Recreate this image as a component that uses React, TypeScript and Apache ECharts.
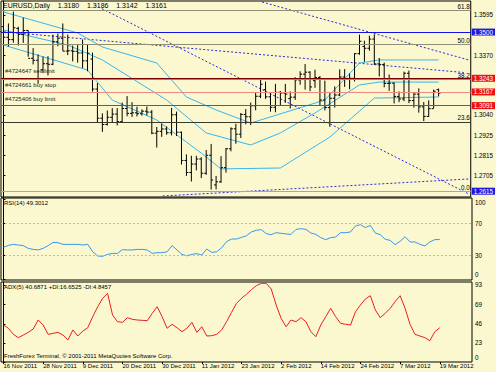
import React, { useEffect, useRef } from 'react';
import * as echarts from 'echarts';

const FONT = '"Liberation Sans", Arial, sans-serif';

const dateLabels = ['16 Nov 2011', '28 Nov 2011', '9 Dec 2011', '20 Dec 2011', '30 Dec 2011', '11 Jan 2012', '23 Jan 2012', '2 Feb 2012', '14 Feb 2012', '24 Feb 2012', '7 Mar 2012', '19 Mar 2012'];

const barOpen = [1.3530,1.3471,1.3458,1.3520,1.3487,1.3509,1.3354,1.3343,1.3290,1.3324,1.3321,1.3446,1.3466,1.3394,1.3396,1.3393,1.3384,1.3340,1.3350,1.3183,1.3021,1.2986,1.3026,1.3044,1.3002,1.3075,1.3048,1.3051,1.3046,1.3060,1.3055,1.2938,1.2948,1.2961,1.2940,1.3040,1.2943,1.2786,1.2719,1.2766,1.2794,1.2715,1.2815,1.2650,1.2667,1.2746,1.2851,1.2962,1.2932,1.3042,1.3029,1.3090,1.3143,1.3180,1.3140,1.3082,1.3165,1.3161,1.3130,1.3138,1.3234,1.3266,1.3277,1.3230,1.3247,1.3122,1.3080,1.3132,1.3150,1.3250,1.3238,1.3243,1.3380,1.3420,1.3410,1.3461,1.3323,1.3320,1.3214,1.3216,1.3142,1.3128,1.3271,1.3119,1.3155,1.3084,1.3031,1.3074,1.3180];
const barHigh = [1.3549,1.3548,1.3614,1.3530,1.3580,1.3510,1.3411,1.3376,1.3364,1.3366,1.3486,1.3492,1.3548,1.3486,1.3425,1.3428,1.3459,1.3432,1.3386,1.3217,1.3048,1.3064,1.3077,1.3077,1.3108,1.3144,1.3110,1.3085,1.3070,1.3086,1.3066,1.2972,1.2990,1.2975,1.3078,1.3058,1.2947,1.2820,1.2812,1.2812,1.2804,1.2844,1.2878,1.2700,1.2810,1.2855,1.2970,1.2990,1.3050,1.3072,1.3108,1.3166,1.3234,1.3224,1.3165,1.3212,1.3172,1.3212,1.3170,1.3249,1.3282,1.3322,1.3282,1.3291,1.3256,1.3230,1.3160,1.3198,1.3293,1.3294,1.3270,1.3382,1.3486,1.3452,1.3480,1.3487,1.3356,1.3330,1.3264,1.3220,1.3170,1.3280,1.3286,1.3160,1.3187,1.3111,1.3120,1.3180,1.3186];
const barLow = [1.3429,1.3420,1.3441,1.3425,1.3440,1.3363,1.3320,1.3212,1.3272,1.3259,1.3316,1.3421,1.3395,1.3372,1.3337,1.3330,1.3300,1.3282,1.3169,1.2994,1.2945,1.2981,1.2995,1.2981,1.2996,1.3032,1.3028,1.3031,1.3035,1.3036,1.2932,1.2858,1.2917,1.2929,1.2925,1.2922,1.2763,1.2700,1.2669,1.2731,1.2688,1.2706,1.2624,1.2625,1.2662,1.2718,1.2837,1.2879,1.2911,1.2987,1.2983,1.3065,1.3133,1.3128,1.3057,1.3054,1.3092,1.3107,1.3075,1.3123,1.3207,1.3180,1.3171,1.3190,1.3089,1.3064,1.2973,1.3080,1.3144,1.3195,1.3182,1.3225,1.3374,1.3335,1.3396,1.3317,1.3253,1.3193,1.3173,1.3103,1.3110,1.3116,1.3105,1.3080,1.3052,1.3005,1.3028,1.3076,1.3142];
const barClose = [1.3471,1.3458,1.3524,1.3487,1.3509,1.3354,1.3343,1.3237,1.3324,1.3321,1.3446,1.3466,1.3394,1.3396,1.3393,1.3384,1.3340,1.3382,1.3183,1.3021,1.2986,1.3026,1.3044,1.3002,1.3075,1.3048,1.3051,1.3046,1.3060,1.3055,1.2938,1.2948,1.2961,1.2940,1.3040,1.2943,1.2786,1.2719,1.2766,1.2794,1.2715,1.2815,1.2677,1.2667,1.2746,1.2851,1.2962,1.2932,1.3042,1.3029,1.3090,1.3143,1.3210,1.3140,1.3082,1.3165,1.3161,1.3155,1.3138,1.3234,1.3266,1.3277,1.3195,1.3247,1.3122,1.3080,1.3132,1.3150,1.3250,1.3238,1.3243,1.3380,1.3449,1.3410,1.3461,1.3323,1.3320,1.3214,1.3216,1.3142,1.3128,1.3271,1.3119,1.3155,1.3084,1.3031,1.3074,1.3171,1.3161];

const rsiValues = [39.6,42,43.3,42.5,41.7,38.3,37,36.3,38.3,41.7,45.8,45.4,43.3,43.3,43.3,43.3,42.5,43.3,34,28.8,28.3,30.8,32,32,36.7,36.3,36.3,37,37,36.3,32,32.9,32.9,34,41.7,36.3,30.8,29,30.8,31.7,30,37.5,33.3,34,39,46.7,50,50,52,54,58.8,60.9,61.7,56.7,55.4,57.9,57.1,56.3,55.8,62,62.9,62,57.5,55.8,51.7,49.2,51.7,52.5,57.9,57.9,58.8,66.3,67.9,64.2,67,57.5,55.4,49.6,48.3,42.9,47.1,52.9,46.3,46.3,43.3,41.3,46.3,49.2,49.3];
const adxValues = [44.6,40.6,33.3,29.3,32.5,35.7,39.8,50.6,44.6,33.3,34.5,35.7,32.5,26.5,38.6,31.3,37.3,41.3,54.6,66.6,76.7,82.7,56.6,48.6,47.8,53.4,51.4,50.6,50.2,49.8,58.6,66.6,54.6,40.6,45.4,41.3,36.5,40.6,47.8,35.7,42.5,31.3,31.7,33.3,38.6,48.6,59.8,70.7,76.7,81.6,87.1,92,94.8,94.8,88,68.7,52.6,42.5,50.6,48.6,53.4,48.6,36.5,30.5,44.6,54.6,64.7,54.6,46.6,45.4,44.6,60.6,68.7,75.9,79.9,62.7,53.4,58.7,64.7,72.7,79.9,64.7,45.4,33.3,31.3,29.3,25.7,36.5,41.3];

// cyan envelope lines: [bar index, price]
const bandUpper = [[0,1.3612],[15,1.3495],[20,1.3417],[31,1.3328],[37,1.3139],[43,1.3067],[50,1.2994],[65,1.3122],[72,1.3328],[76,1.3345],[88,1.3345]];
const bandMiddle = [[0,1.3512],[13,1.3428],[20,1.3345],[33,1.3122],[41,1.2939],[50,1.2872],[56,1.2939],[63,1.3050],[72,1.3206],[76,1.3222],[88,1.3222]];
const bandLower = [[0,1.3428],[17,1.3289],[22,1.3122],[31,1.3011],[40,1.2827],[44,1.2739],[56,1.2744],[66,1.2916],[75,1.3133],[88,1.3139]];

// dotted trend lines: [start index, start price, end index, end price]
const trendLines = [[18.45,1.36506,94.1,1.25995],[-0.7,1.35032,93.1,1.32752],[52.3,1.36673,94.1,1.33447],[32.2,1.25883,94.1,1.26829]];

const fibNames = ['0.0','23.6','38.2','50.0','61.8'];
const fibPrices = [1.2615,1.3000,1.3239,1.3430,1.3620];
const orderNames = ['#4724647 sell limit','#4724661 buy stop','#4725406 buy limit'];
const orderPrices = [1.3243,1.3167,1.3091];
const orderColors = ['#7a0000','#f08a80','#ff1a1a'];
const levelPrice = 1.3500;
const lowPrice = 1.2615;
const priceTicks = [1.3595,1.3370,1.3040,1.2925,1.2815,1.2705];
const rsiTicks = [0,30,70,100];
const adxTicks = [0,23,46,69,93];
const header = 'EURUSD,Daily    1.3180    1.3186    1.3142    1.3161';

export default function App() {
  const ref = useRef<HTMLDivElement>(null);
  useEffect(() => {
    if (!ref.current) return;
    const chart = echarts.init(ref.current, null, { renderer: 'svg' });
    const nSlots = 95;
    const xMin = -0.5, xMax = nSlots - 0.5;
    const bars = barOpen.map((o, i) => [i, o, barHigh[i], barLow[i], barClose[i]]);
    const lbl = { fontFamily: FONT, fontSize: 6.3, color: '#000' };
    const clear = 'rgba(0,0,0,0)';
    const boxLabel = (txt: string, bg: string) => ({ show: true, position: 'end', formatter: txt, backgroundColor: bg, color: '#fff', padding: [1, 2, 0, 2], distance: 1, fontFamily: FONT, fontSize: 6.3 });
    const ml = (data: any[]) => ({ silent: true, symbol: ['none', 'none'], animation: false, precision: 6, data });

    const fibData = fibPrices.map((p, k) => ({ yAxis: p, lineStyle: { color: k === 0 ? '#9c9cf2' : k === 1 ? '#3a3a2c' : '#8f8f72', width: 1, type: 'solid' },
      label: { show: true, position: 'insideEndTop', formatter: fibNames[k], distance: 1, ...lbl } }));
    const boxData: any[] = [
      { yAxis: levelPrice, lineStyle: { color: '#1010e8', width: 1, type: 'solid' }, label: boxLabel(levelPrice.toFixed(4), '#1a1ae0') },
      { yAxis: lowPrice, lineStyle: { color: clear, width: 1 }, label: boxLabel(lowPrice.toFixed(4), '#1a1ae0') },
      ...orderPrices.map((p, k) => ({ yAxis: p, lineStyle: { color: orderColors[k], width: 1, type: 'solid' }, label: boxLabel(p.toFixed(4), '#ee1111') })),
    ];
    const nameData = orderPrices.map((p, k) => ({ yAxis: p, lineStyle: { color: clear, width: 1 }, label: { show: true, position: 'insideStartTop', formatter: orderNames[k], distance: 4, ...lbl, fontSize: 6, color: '#222' } }));

    const cyan = (data: number[][]) => ({ type: 'line', xAxisIndex: 0, yAxisIndex: 0, data, symbol: 'none', lineStyle: { color: '#38b6f0', width: 1 }, z: 3 });
    const empty = (extra: any) => ({ type: 'line', xAxisIndex: 0, yAxisIndex: 0, data: [], symbol: 'none', ...extra });

    const series: any[] = [
      empty({ markLine: ml(fibData) }),
      empty({ markLine: ml(boxData) }),
      empty({ markLine: ml(nameData) }),
      cyan(bandUpper),
      cyan(bandMiddle),
      cyan(bandLower),
      ...trendLines.map((t) => ({ type: 'line', xAxisIndex: 0, yAxisIndex: 0, data: [[t[0], t[1]], [t[2], t[3]]], symbol: 'none', lineStyle: { color: '#2a2ad8', width: 1, type: [2, 2] }, z: 2 })),
      {
        type: 'custom', xAxisIndex: 0, yAxisIndex: 0, data: bars, encode: { x: 0, y: [1, 2, 3, 4] }, z: 4,
        renderItem: (params: any, api: any) => {
          const i = api.value(0);
          const o = api.coord([i, api.value(1)]);
          const h = api.coord([i, api.value(2)]);
          const l = api.coord([i, api.value(3)]);
          const c = api.coord([i, api.value(4)]);
          const x = o[0];
          const st = { stroke: '#000', lineWidth: 1 };
          return { type: 'group', children: [
            { type: 'line', shape: { x1: x, y1: h[1], x2: x, y2: l[1] }, style: st },
            { type: 'line', shape: { x1: x - 2, y1: o[1], x2: x, y2: o[1] }, style: st },
            { type: 'line', shape: { x1: x, y1: c[1], x2: x + 2, y2: c[1] }, style: st },
          ] };
        },
      },
      { type: 'line', xAxisIndex: 1, yAxisIndex: 1, data: rsiValues.map((v, i) => [i, v]), symbol: 'none', lineStyle: { color: '#3896ee', width: 1 },
        markLine: { silent: true, symbol: ['none', 'none'], label: { show: false }, lineStyle: { color: '#bdbdb0', type: [2, 2], width: 1 }, data: [{ yAxis: 30 }, { yAxis: 70 }] } },
      { type: 'line', xAxisIndex: 2, yAxisIndex: 2, data: adxValues.map((v, i) => [i, v]), symbol: 'none', lineStyle: { color: '#f01c1c', width: 1 } },
    ];

    const gridBase = { left: 1, width: 471, show: true, borderColor: '#000', borderWidth: 1 };
    const xBase = (g: number) => ({ type: 'value', gridIndex: g, min: xMin, max: xMax, show: g === 2,
      axisLine: { show: false }, splitLine: { show: false },
      axisTick: { show: true, length: 2, customValues: dateLabels.map((_, k) => k * 8), lineStyle: { color: '#000' } },
      axisLabel: { customValues: dateLabels.map((_, k) => k * 8), formatter: (v: number) => dateLabels[Math.round(v / 8)] || '', align: 'left', margin: 1, fontFamily: FONT, fontSize: 6, color: '#000' } });
    const rich = { lo: { padding: [0, 0, 9, 0], fontFamily: FONT, fontSize: 6.3, color: '#000' }, hi: { padding: [6, 0, 0, 0], fontFamily: FONT, fontSize: 6.3, color: '#000' } };
    const yBase = (g: number, min: number, max: number, ticks: number[], fmt: (v: number) => string) => ({
      type: 'value', gridIndex: g, position: 'right', min, max,
      axisLine: { show: true, lineStyle: { color: '#000' } }, splitLine: { show: false },
      axisTick: { show: true, length: 2, customValues: ticks, lineStyle: { color: '#000' } },
      axisLabel: { customValues: ticks, formatter: fmt, margin: 3, ...lbl, rich } });

    chart.setOption({
      animation: false,
      backgroundColor: '#fbf8cf',
      grid: [
        { ...gridBase, top: 1, height: 196 },
        { ...gridBase, top: 198, height: 82 },
        { ...gridBase, top: 282, height: 80 },
      ],
      xAxis: [xBase(0), xBase(1), xBase(2)],
      yAxis: [
        yBase(0, 1.258276, 1.367286, priceTicks, (v) => v.toFixed(4)),
        yBase(1, -1.25, 101.25, rsiTicks, (v) => (v === 0 ? '{lo|0}' : v === 100 ? '{hi|100}' : String(v))),
        yBase(2, 0, 96.4, adxTicks, (v) => (v === 0 ? '{lo|0}' : String(v))),
      ],
      graphic: [
        { type: 'text', left: 3, top: 2, style: { text: header, font: `7px ${FONT}`, fill: '#000' } },
        { type: 'text', left: 4, top: 200, style: { text: 'RSI(14) 49.3012', font: `6px ${FONT}`, fill: '#000' } },
        { type: 'text', left: 4, top: 284, style: { text: 'ADX(5) 40.6871 +DI:16.6525 -DI:4.8457', font: `6px ${FONT}`, fill: '#000' } },
        { type: 'text', left: 4, top: 353, style: { text: 'FreshForex Terminal, \u00a9 2001-2011 MetaQuotes Software Corp.', font: `6px ${FONT}`, fill: '#000' } },
      ],
      series,
    });
    return () => chart.dispose();
  }, []);
  return <div ref={ref} style={{ position: 'fixed', left: 0, top: 0, width: 496, height: 372, background: '#fbf8cf' }} />;
}
